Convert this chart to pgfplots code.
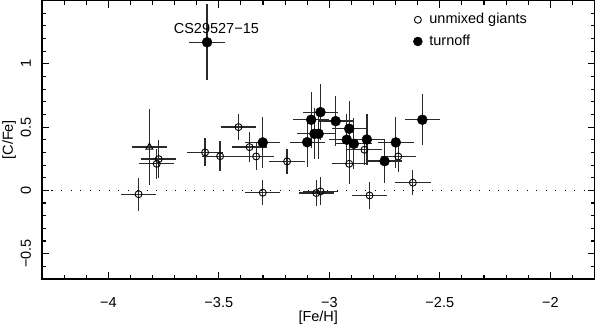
\documentclass[border=0pt]{standalone}
\usepackage{pgfplots}
\pgfplotsset{compat=1.18}
\usepackage{pgfplotstable}
\usepackage{fontspec}
\setmainfont{Liberation Sans}
\usetikzlibrary{calc}
\definecolor{ebar}{HTML}{2A2A2A}

\pgfplotstableread{
x y ex ey
-3.863 -0.030 0.08 0.13
-3.772 0.247 0.08 0.15
-3.781 0.210 0.08 0.12
-3.562 0.300 0.08 0.11
-3.494 0.270 0.08 0.12
-3.411 0.500 0.08 0.10
-3.361 0.342 0.08 0.12
-3.331 0.268 0.08 0.11
-3.301 -0.018 0.08 0.10
-3.191 0.229 0.08 0.10
-3.059 -0.021 0.08 0.10
-3.040 -0.008 0.08 0.11
-2.910 0.210 0.08 0.16
-2.841 0.321 0.08 0.12
-2.818 -0.040 0.08 0.11
-2.688 0.268 0.08 0.12
-2.622 0.061 0.08 0.10
}\giants

\pgfplotstableread{
x y ex ey
-3.814 0.342 0.08 0.30
}\triangle

\pgfplotstableread{
x y ex ey
-3.553 1.170 0.08 0.30
-3.301 0.379 0.08 0.20
-3.100 0.381 0.08 0.20
-3.082 0.558 0.08 0.22
-3.067 0.447 0.08 0.20
-3.048 0.447 0.08 0.20
-3.040 0.618 0.08 0.22
-2.971 0.547 0.08 0.20
-2.921 0.400 0.08 0.20
-2.910 0.487 0.08 0.22
-2.889 0.368 0.08 0.20
-2.830 0.402 0.08 0.20
-2.750 0.231 0.08 0.17
-2.699 0.379 0.08 0.20
-2.579 0.558 0.08 0.20
}\turnoff

\begin{document}
\fontsize{14.5}{17}\selectfont
\begin{tikzpicture}
\begin{axis}[
  scale only axis,
  width=552.5pt, height=278.5pt,
  xmin=-4.3, xmax=-1.8, ymin=-0.7, ymax=1.5,
  axis line style={line width=1.2pt},
  tick style={line width=1.1pt, black},
  tick align=inside,
  major tick length=7pt, minor tick length=4pt,
  xtick={-4,-3.5,-3,-2.5,-2},
  xticklabels={−4,−3.5,−3,−2.5,−2},
  minor xtick={-4.2,-4.1,-3.9,-3.8,-3.7,-3.6,-3.4,-3.3,-3.2,-3.1,-2.9,-2.8,-2.7,-2.6,-2.4,-2.3,-2.2,-2.1,-1.9},
  ytick={-0.5,0,0.5,1},
  yticklabels={−0.5,0,0.5,1},
  minor ytick={-0.6,-0.4,-0.3,-0.2,-0.1,0.1,0.2,0.3,0.4,0.6,0.7,0.8,0.9,1.1,1.2,1.3,1.4},
  xticklabel style={font=\fontsize{14.5}{17}\selectfont, yshift=-13pt},
  yticklabel style={font=\fontsize{14.5}{17}\selectfont, rotate=90, anchor=south, yshift=6pt},
  xlabel={[Fe/H]}, ylabel={[C/Fe]},
  xlabel style={font=\fontsize{14.5}{17}\selectfont, inner sep=1pt, yshift=2pt},
  ylabel style={font=\fontsize{14.5}{17}\selectfont, yshift=-5pt},
  legend style={draw=none, fill=none, at={(rel axis cs:0.67,0.965)}, anchor=north west,
    font=\fontsize{14.5}{17}\selectfont, row sep=5pt, inner sep=1pt},
  legend cell align=left,
  clip=false,
]
\addplot[black, dash pattern=on 1.2pt off 8.3pt, line width=1.2pt, forget plot] coordinates {(-4.3,0) (-1.8,0)};

\addplot[only marks, mark=*, mark size=0.01pt, draw=ebar, forget plot,
  error bars/.cd, x dir=both, x explicit, y dir=both, y explicit, error mark=none,
  error bar style={line width=1.3pt, ebar}]
  table[x=x, y=y, x error=ex, y error=ey]{\giants};
\addplot[only marks, mark=*, mark size=0.01pt, draw=ebar, forget plot,
  error bars/.cd, x dir=both, x explicit, y dir=both, y explicit, error mark=none,
  error bar style={line width=1.3pt, ebar}]
  table[x=x, y=y, x error=ex, y error=ey]{\triangle};
\addplot[only marks, mark=*, mark size=0.01pt, draw=ebar, forget plot,
  error bars/.cd, x dir=both, x explicit, y dir=both, y explicit, error mark=none,
  error bar style={line width=1.3pt, ebar}]
  table[x=x, y=y, x error=ex, y error=ey]{\turnoff};

\addplot[only marks, mark=o, mark size=3.5pt, mark options={line width=0.9pt, black}, forget plot]
  table[x=x, y=y]{\giants};
\addplot[only marks, mark=triangle, mark size=4pt, mark options={line width=0.9pt, black}, forget plot]
  table[x=x, y=y]{\triangle};
\addplot[only marks, mark=*, mark size=5pt, mark options={black, fill=black}, forget plot]
  table[x=x, y=y]{\turnoff};

\addlegendimage{only marks, mark=o, mark size=3.5pt, mark options={line width=0.9pt, black}}
\addlegendentry{\hspace{5pt}unmixed giants}
\addlegendimage{only marks, mark=*, mark size=4.5pt, mark options={black, fill=black}}
\addlegendentry{\hspace{5pt}turnoff}

\node[font=\fontsize{14.5}{17}\selectfont] at (axis cs:-3.511,1.28) {CS29527−15};
\end{axis}
\pgfresetboundingbox
\path ($(current axis.south west)+(-42pt,-48pt)$) rectangle ($(current axis.north east)+(2.5pt,0.5pt)$);
\end{tikzpicture}
\end{document}
